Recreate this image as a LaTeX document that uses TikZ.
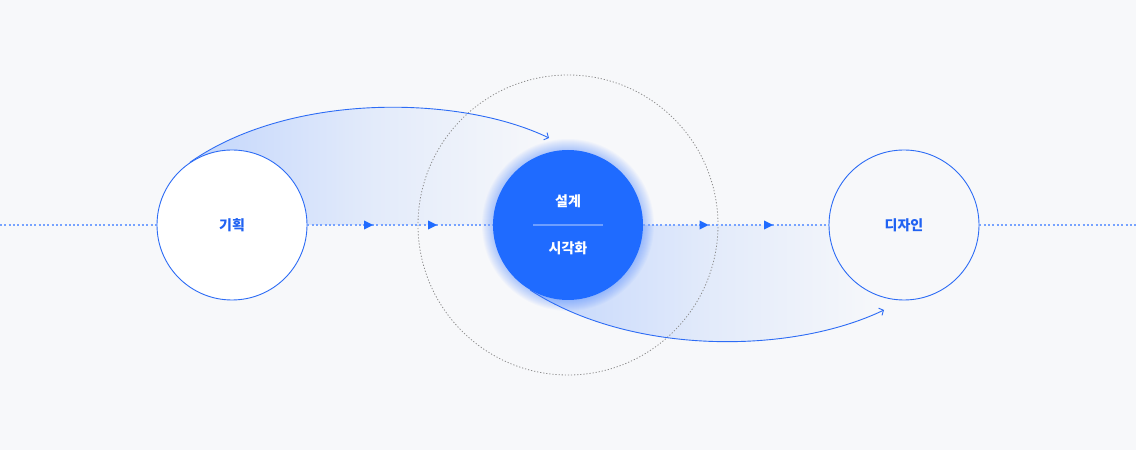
\documentclass[tikz,border=0pt]{standalone}
\usepackage{fontspec}
\newfontfamily\kr{Noto Sans CJK KR}
\usetikzlibrary{arrows.meta,calc}
\definecolor{bg}{HTML}{F7F8FA}
\definecolor{mainblue}{HTML}{1F6BFF}
\definecolor{stroke}{HTML}{2D6CF5}
\definecolor{tblue}{HTML}{2062F2}
\definecolor{dotblue}{HTML}{77A3FF}
\definecolor{shadeblue}{HTML}{C3D6FB}
\definecolor{orbitgray}{HTML}{8C8C8C}
\tikzset{
  ring/.style={circle, minimum size=150pt, inner sep=0pt, draw=stroke, line width=0.9pt},
  lbl/.style={font=\kr\bfseries\fontsize{14}{16}\selectfont, text=tblue},
  flow/.style={draw=dotblue, line width=1.7pt, dash pattern=on 2pt off 2.3pt},
  orbit/.style={draw=orbitgray, line width=0.8pt, dash pattern=on 1.2pt off 1.9pt},
  bendline/.style={draw=stroke, line width=0.9pt, -{Straight Barb[length=3.5pt,width=8pt]}},
  sweep/.style={left color=shadeblue, right color=bg, middle color=shadeblue!40!bg},
  tri/.pic={\fill[mainblue] (-4.5,-4.6) -- (4.5,0) -- (-4.5,4.6) -- cycle;}
}
\begin{document}
\begin{tikzpicture}[x=1pt,y=1pt]
\fill[bg] (0,0) rectangle (1136,450);
\useasboundingbox (0,0) rectangle (1136,450);
\coordinate (cA) at (232,225);
\coordinate (cB) at (568,225);
\coordinate (cC) at (904,225);
\coordinate (L) at (0,225);
\coordinate (R) at (1136,225);
\coordinate (ua) at (549,312);
\coordinate (la) at (884,140);

% shaded sweeps
\shade[sweep]
  ($(cA)+(124:75)$) .. controls (290,358) and (460,355) .. (ua) -- (549,225)
  -- ($(cA)+(0:75)$) arc[start angle=0, end angle=124, radius=75pt] -- cycle;
\shade[sweep]
  ($(cB)+(240:75)$) .. controls (630,95) and (790,95) .. (la) -- (884,225)
  -- ($(cB)+(0:75)$) arc[start angle=0, end angle=-120, radius=75pt] -- cycle;

% orbit
\draw[orbit] (cB) circle (150pt);

% glow
\foreach \r in {76,...,86} {\fill[mainblue, opacity=0.03] (cB) circle (\r pt);}

% nodes
\node[ring, fill=white] (A) at (cA) {};
\node[circle, minimum size=150pt, inner sep=0pt, fill=mainblue] (B) at (cB) {};
\node[ring, fill=bg] (C) at (cC) {};

% flow line
\draw[flow] (L) -- (A.west);
\draw[flow] (A.east) -- (B.west);
\draw[flow] (B.east) -- (C.west);
\draw[flow] (C.east) -- (R);
\pic at (368.5,225) {tri};
\pic at (432.5,225) {tri};
\pic at (704,225) {tri};
\pic at (768.5,225) {tri};

% bends
\draw[bendline] (A.124) .. controls (290,358) and (460,355) .. (ua);
\draw[bendline] (B.240) .. controls (630,95) and (790,95) .. (la);

% labels
\node[lbl] (tA) at (cA) {기획};
\draw[white, opacity=0.35, line width=1.2pt] ($(cB)+(-35,0)$) -- ($(cB)+(35,0)$);
\node[lbl, text=white] (tB1) at (568,249) {설계};
\node[lbl, text=white] (tB2) at (568,202) {시각화};
\node[lbl] (tC) at (cC) {디자인};
\end{tikzpicture}
\end{document}
